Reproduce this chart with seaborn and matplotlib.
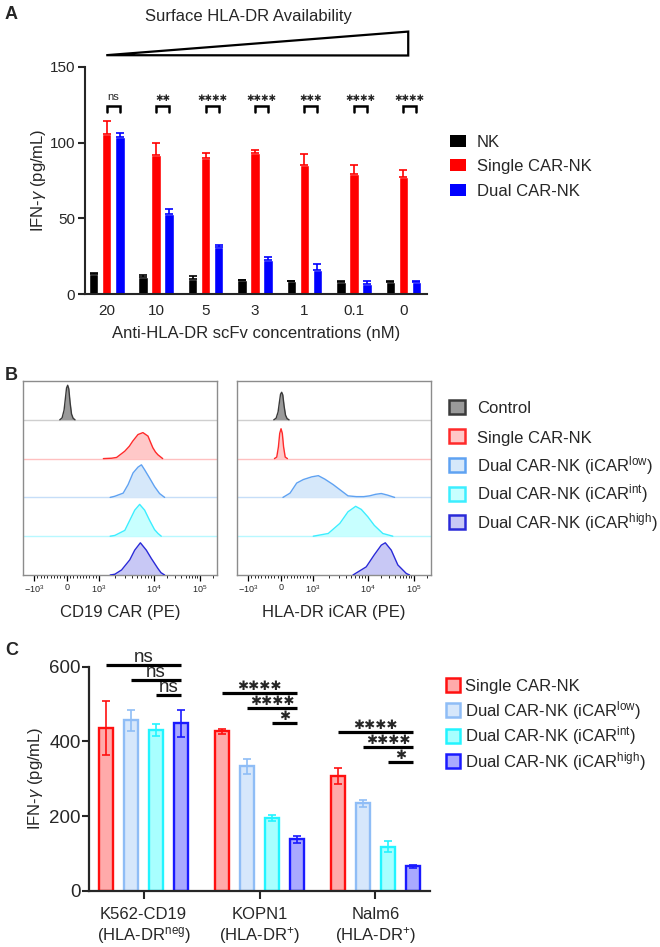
import numpy as np
import pandas as pd
import matplotlib
matplotlib.use("Agg")
import matplotlib.pyplot as plt
import seaborn as sns
from matplotlib.patches import Polygon, Rectangle

# ---- panel A: IFN-g vs scFv concentration
conc_labels = ["20", "10", "5", "3", "1", "0.1", "0"]
a_groups = ["NK", "Single CAR-NK", "Dual CAR-NK"]
nk_ifng = [12.9, 11.2, 9.6, 9.0, 8.5, 7.9, 7.9]
nk_sd = [1.0, 1.5, 2.2, 0.4, 0.4, 0.4, 0.4]
single_ifng = [105.5, 92.0, 89.9, 93.2, 85.5, 79.6, 77.4]
single_sd = [8.5, 7.7, 3.3, 2.2, 7.3, 5.7, 4.6]
dual_ifng = [103.7, 52.8, 31.3, 22.3, 16.0, 6.8, 7.9]
dual_sd = [2.6, 3.1, 0.9, 2.0, 3.5, 1.9, 0.4]
a_sig = ["ns", "**", "****", "****", "***", "****", "****"]

# ---- panel B: flow histograms (x = PE intensity, y = fraction of mode)
cd19_ctrl_x = [-220, -150, -90, -50, -15, 20, 55, 95, 140, 190, 250]
cd19_ctrl_y = [0, 0.05, 0.25, 0.55, 0.82, 0.89, 0.8, 0.45, 0.15, 0.04, 0]
cd19_single_x = [1200, 1700, 2100, 2960, 3600, 4150, 5180, 6380, 7900, 8800, 9700, 11000, 12400, 15800]
cd19_single_y = [0, 0.01, 0.03, 0.19, 0.32, 0.45, 0.62, 0.67, 0.58, 0.42, 0.28, 0.17, 0.1, 0]
cd19_low_x = [1600, 1950, 2770, 3410, 4200, 5180, 5990, 6870, 8450, 10500, 13500, 17400]
cd19_low_y = [0, 0.03, 0.11, 0.33, 0.63, 0.78, 0.84, 0.71, 0.5, 0.28, 0.1, 0]
cd19_int_x = [1600, 1950, 2970, 3660, 4510, 5560, 6870, 8450, 10500, 12500, 14700]
cd19_int_y = [0, 0.02, 0.15, 0.41, 0.67, 0.82, 0.67, 0.41, 0.17, 0.07, 0]
cd19_high_x = [1600, 1950, 2590, 3660, 4510, 5730, 7370, 9070, 12400, 14500, 17400]
cd19_high_y = [0, 0.02, 0.13, 0.39, 0.64, 0.83, 0.64, 0.43, 0.17, 0.06, 0]

dr_ctrl_x = [-220, -150, -90, -50, -15, 20, 55, 95, 140, 190, 250]
dr_ctrl_y = [0, 0.04, 0.2, 0.45, 0.66, 0.71, 0.64, 0.36, 0.12, 0.03, 0]
dr_single_x = [-200, -130, -80, -40, 0, 40, 80, 130, 200]
dr_single_y = [0, 0.04, 0.3, 0.65, 0.77, 0.65, 0.3, 0.04, 0]
dr_low_x = [60, 281, 490, 697, 960, 1250, 1650, 2340, 3100, 4380, 6220, 8500, 11050, 15000, 19900, 27000, 38700]
dr_low_y = [0, 0.11, 0.37, 0.46, 0.53, 0.56, 0.47, 0.33, 0.2, 0.04, 0.02, 0.02, 0.04, 0.08, 0.1, 0.06, 0]
dr_int_x = [1010, 1900, 3100, 4380, 6050, 7680, 10150, 14000, 21500, 35400]
dr_int_y = [0, 0.07, 0.33, 0.63, 0.77, 0.69, 0.5, 0.28, 0.07, 0]
dr_high_x = [5400, 9460, 14000, 19900, 24300, 32800, 45500, 69500, 81900]
dr_high_y = [0, 0.21, 0.52, 0.77, 0.83, 0.64, 0.26, 0.04, 0]

b_labels = ["Control", "Single CAR-NK", "Dual CAR-NK (iCAR$^{low}$)",
            "Dual CAR-NK (iCAR$^{int}$)", "Dual CAR-NK (iCAR$^{high}$)"]
b_ticks = [-1e3, 0, 1e3, 1e4, 1e5]
b_ticklabels = ["$-10^{3}$", "0", "$10^{3}$", "$10^{4}$", "$10^{5}$"]

# ---- panel C: IFN-g vs target cells
c_targets = ["K562-CD19\n(HLA-DR$^{neg}$)", "KOPN1\n(HLA-DR$^{+}$)", "Nalm6\n(HLA-DR$^{+}$)"]
c_groups = b_labels[1:]
c_single = [436, 427, 307]
c_single_sd = [72, 6, 21]
c_low = [456, 333, 234]
c_low_sd = [28, 21, 10]
c_int = [431, 195, 118]
c_int_sd = [16, 9, 15]
c_high = [448, 138, 66]
c_high_sd = [35, 9, 4]
c_sig = [["ns", "ns", "ns"], ["****", "****", "*"], ["****", "****", "*"]]

a_colors = ["#000000", "#ff0000", "#0000ff"]
b_faces = ["#9a9a9a", "#ffc8c8", "#d6e8fa", "#c8ffff", "#c8c8f5"]
b_edges = ["#3a3a3a", "#ff2a2a", "#5fa2f2", "#3ceeff", "#2a2ad8"]
b_bases = ["#cfcfcf", "#ffc0c0", "#c6def8", "#b8f8ff", "#8c8c8c"]
c_faces = ["#ffaaaa", "#d6e7fb", "#a8ffff", "#a9a9ff"]
c_edges = ["#ff1010", "#8fbdf6", "#22f4ff", "#1a1aff"]

sns.set_theme(style="ticks")
plt.rcParams["font.family"] = ["Liberation Sans", "DejaVu Sans"]
plt.rcParams["mathtext.fontset"] = "custom"
plt.rcParams["mathtext.rm"] = "Liberation Sans"
plt.rcParams["mathtext.it"] = "Liberation Sans:italic"
plt.rcParams["mathtext.bf"] = "Liberation Sans:bold"
plt.rcParams["mathtext.default"] = "regular"

W, H = 660, 947
fig = plt.figure(figsize=(W / 100, H / 100), dpi=100)


def fbox(x0, y0, x1, y1):
    # pixel box -> figure fraction
    return [x0 / W, 1 - y1 / H, (x1 - x0) / W, (y1 - y0) / H]


def add_key(x0, w, h, rows, tx, labels, faces, edges, lw):
    # hand-made legend so every row sits where the reference has it
    for y, lab, f, e in zip(rows, labels, faces, edges):
        fig.add_artist(Rectangle((x0 / W, 1 - (y + h / 2) / H), w / W, h / H,
                                 transform=fig.transFigure, facecolor=f,
                                 edgecolor=e, lw=lw))
        fig.text(tx / W, 1 - (y + 6) / H, lab, va="baseline", fontsize=12)


def stars(lab):
    # Prism style heavy asterisks
    return lab.replace("*", "\u2731")


# ================= A =================
axA = fig.add_axes(fbox(85, 67, 427, 294))
df_a = pd.DataFrame({
    "conc": conc_labels * 3,
    "cell": np.repeat(a_groups, len(conc_labels)),
    "ifng": nk_ifng + single_ifng + dual_ifng,
})
sns.barplot(data=df_a, x="conc", y="ifng", hue="cell", order=conc_labels,
            hue_order=a_groups, palette=a_colors, saturation=1, errorbar=None,
            width=0.79, gap=0.27, legend=False, ax=axA)
for cont, sd, col in zip(axA.containers, [nk_sd, single_sd, dual_sd], a_colors):
    xs = [p.get_x() + p.get_width() / 2 for p in cont]
    hs = [p.get_height() for p in cont]
    axA.errorbar(xs, hs, yerr=[np.zeros(len(sd)), sd], fmt="none", ecolor=col,
                 elinewidth=1.2, capsize=3, capthick=1.2)

for i, lab in enumerate(a_sig):
    p1 = axA.containers[1][i]
    p2 = axA.containers[2][i]
    x1 = p1.get_x() + p1.get_width() / 2
    x2 = p2.get_x() + p2.get_width() / 2
    axA.plot([x1, x1, x2, x2], [120.3, 124, 124, 120.3], color="black", lw=1.8,
             solid_joinstyle="miter", clip_on=False)
    if lab == "ns":
        axA.text((x1 + x2) / 2, 128.5, lab, ha="center", va="baseline", fontsize=8)
    else:
        axA.text((x1 + x2) / 2, 127.5, stars(lab), ha="center", va="baseline",
                 fontsize=6.5, family="DejaVu Sans")

axA.add_patch(Polygon([(-0.01, 157.8), (6.1, 173.4), (6.1, 157.6)], closed=True,
                      fill=False, ec="black", lw=1.6, clip_on=False))
fig.text(248 / W, 1 - 16 / H, "Surface HLA-DR Availability", ha="center",
         va="center", fontsize=12)

axA.set_ylim(0, 150)
axA.set_xlim(-0.44, 6.48)
axA.set_yticks([0, 50, 100, 150])
axA.set_ylabel("IFN-$\\mathit{\\gamma}$ (pg/mL)", fontsize=12, labelpad=1)
axA.set_xlabel("Anti-HLA-DR scFv concentrations (nM)", fontsize=12, labelpad=6)
axA.tick_params(axis="y", length=5, width=1.5, labelsize=11, pad=2)
axA.tick_params(axis="x", length=0, labelsize=11, pad=7)
sns.despine(ax=axA)
for s in ["left", "bottom"]:
    axA.spines[s].set_linewidth(1.5)

add_key(450, 16, 12, [141, 165.5, 190], 477, a_groups, a_colors, a_colors, 0)

# ================= B =================
cd19_curves = [(cd19_ctrl_x, cd19_ctrl_y), (cd19_single_x, cd19_single_y),
               (cd19_low_x, cd19_low_y), (cd19_int_x, cd19_int_y),
               (cd19_high_x, cd19_high_y)]
dr_curves = [(dr_ctrl_x, dr_ctrl_y), (dr_single_x, dr_single_y),
             (dr_low_x, dr_low_y), (dr_int_x, dr_int_y), (dr_high_x, dr_high_y)]

minor_b = ([-v for v in range(100, 1000, 100)] + list(range(100, 1000, 100))
           + [k * 1e3 for k in range(2, 10)] + [k * 1e4 for k in range(2, 10)] + [2e5])

# biexponential-like axis: linear inside +-1e3, log outside, with the
# decade widths seen on the cytometer plots
_t_knots = [-3, -1, 0, 1, 2, 3, 4]
_p_knots = [-0.463, 0.057, 0.227, 0.392, 0.673, 0.910, 1.147]


def _lin_log(x):
    x = np.asarray(x, dtype=float)
    a = np.abs(x)
    return np.sign(x) * np.where(a <= 1000, a / 1000, 1 + np.log10(np.maximum(a, 1000) / 1000))


def _lin_log_inv(t):
    t = np.asarray(t, dtype=float)
    a = np.abs(t)
    return np.sign(t) * np.where(a <= 1, a * 1000, 1000 * 10 ** (np.maximum(a, 1) - 1))


def biex_fwd(x):
    return np.interp(_lin_log(x), _t_knots, _p_knots)


def biex_inv(p):
    return _lin_log_inv(np.interp(p, _p_knots, _t_knots))


def draw_stack(ax, curves, xlabel):
    ax.set_xscale("function", functions=(biex_fwd, biex_inv))
    ax.set_xlim(float(biex_inv(0.0)), float(biex_inv(1.0)))
    ax.set_ylim(0, 5)
    n = len(curves)
    for i, ((xs, ys), face, edge, base) in enumerate(zip(curves, b_faces, b_edges, b_bases)):
        off = n - 1 - i
        if off > 0:
            ax.axhline(off, color=base, lw=1, zorder=1)
        yy = np.array(ys) + off
        ax.fill_between(xs, off, yy, color=face, lw=0, zorder=2)
        ax.plot(xs, yy, color=edge, lw=1, zorder=3)
    ax.set_xticks(b_ticks)
    ax.set_xticklabels(b_ticklabels)
    ax.set_xticks(minor_b, minor=True)
    ax.set_yticks([])
    ax.tick_params(axis="x", which="major", length=4, width=0.9, labelsize=6.5,
                   pad=2, color="black")
    ax.tick_params(axis="x", which="minor", length=2, width=0.6, color="black")
    for s in ax.spines.values():
        s.set_color("#8c8c8c")
        s.set_linewidth(1)
    ax.set_xlabel(xlabel, fontsize=12, labelpad=7)


axB1 = fig.add_axes(fbox(23, 381, 217, 575))
draw_stack(axB1, cd19_curves, "CD19 CAR (PE)")
axB2 = fig.add_axes(fbox(237, 381, 431, 575))
draw_stack(axB2, dr_curves, "HLA-DR iCAR (PE)")

add_key(448.5, 16, 14, [407, 436.5, 465, 493.5, 522], 477, b_labels,
        b_faces, b_edges, 1.8)

# ================= C =================
axC = fig.add_axes(fbox(89, 666.7, 430, 890.7))
df_c = pd.DataFrame({
    "target": c_targets * 4,
    "cell": np.repeat(c_groups, len(c_targets)),
    "ifng": c_single + c_low + c_int + c_high,
})
sns.barplot(data=df_c, x="target", y="ifng", hue="cell", order=c_targets,
            hue_order=c_groups, palette=c_faces, saturation=1, errorbar=None,
            width=0.86, gap=0.45, linewidth=1.7, legend=False, ax=axC)
c_sds = [c_single_sd, c_low_sd, c_int_sd, c_high_sd]
centers = []
for cont, sd, edge in zip(axC.containers, c_sds, c_edges):
    xs = []
    for p in cont:
        p.set_edgecolor(edge)
        xs.append(p.get_x() + p.get_width() / 2)
    hs = [p.get_height() for p in cont]
    axC.errorbar(xs, hs, yerr=sd, fmt="none", ecolor=edge, elinewidth=1.2,
                 capsize=3, capthick=1.2, zorder=3)
    centers.append(xs)

vals = np.array([c_single, c_low, c_int, c_high])
sds = np.array(c_sds)
for j in range(len(c_targets)):
    top = (vals[:, j] + sds[:, j]).max() + 97
    for k, lab in enumerate(c_sig[j]):
        y = top - 40 * k
        x1 = centers[k][j]
        x2 = centers[3][j]
        axC.plot([x1, x2], [y, y], color="black", lw=2.3, clip_on=False,
                 solid_capstyle="butt")
        if lab == "ns":
            axC.text((x1 + x2) / 2, y + 7, lab, ha="center", va="baseline",
                     fontsize=13.5, clip_on=False)
        else:
            axC.text((x1 + x2) / 2, y + 8, stars(lab), ha="center",
                     va="baseline", fontsize=9.5, family="DejaVu Sans",
                     clip_on=False)

axC.set_ylim(0, 600)
axC.set_xlim(-0.47, 2.47)
axC.set_yticks([0, 200, 400, 600])
axC.set_xlabel("")
axC.set_ylabel("IFN-$\\mathit{\\gamma}$ (pg/mL)", fontsize=12, labelpad=3)
axC.tick_params(axis="y", length=5, width=1.5, labelsize=13.5, pad=1)
axC.tick_params(axis="x", length=6, width=1.5, labelsize=12, pad=6)
sns.despine(ax=axC)
for s in ["left", "bottom"]:
    axC.spines[s].set_linewidth(1.6)

add_key(445.5, 14.5, 14, [684.5, 710, 735.5, 761], 465, c_groups,
        c_faces, c_edges, 1.8)

# panel letters
for lab, ytop in [("A", 6), ("B", 367), ("C", 642)]:
    fig.text(5 / W, 1 - ytop / H, lab, fontsize=13, fontweight="bold", va="top")

fig.savefig("out.png", dpi=100)
plt.close(fig)
